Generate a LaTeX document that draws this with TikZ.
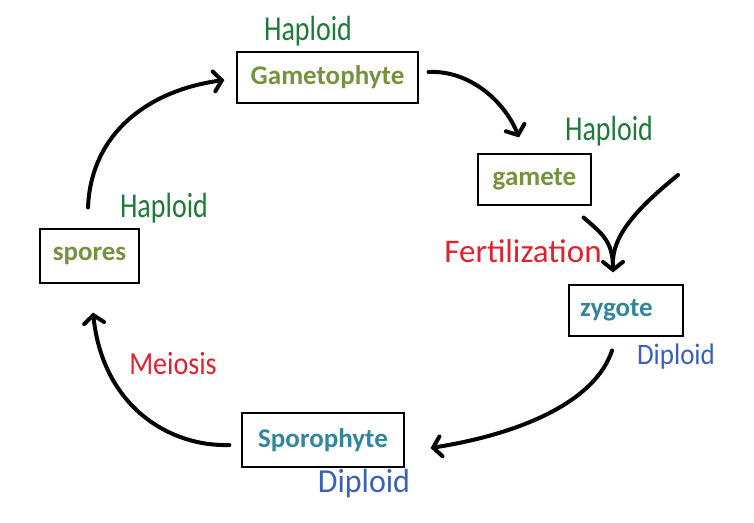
\documentclass[tikz,border=0pt]{standalone}
\usepackage{fontspec}
\setmainfont{Carlito}
\usepackage{graphicx}
\usetikzlibrary{arrows.meta,calc}
\definecolor{boxolive}{HTML}{76923C}
\definecolor{boxteal}{HTML}{31859C}
\definecolor{hapgreen}{HTML}{1F7A3A}
\definecolor{dipblue}{HTML}{3A60B8}
\definecolor{fertred}{HTML}{E2212F}
\begin{document}
\begin{tikzpicture}[x=1pt,y=1pt,
  box/.style={draw=black,line width=1.1pt,minimum height=51pt,inner ysep=0pt,
    font=\fontsize{27}{30}\selectfont\bfseries},
  arr/.style={line width=4pt,line cap=round,line join=round,
    -{Straight Barb[length=8pt,width=20pt,line cap=round]}},
  plain/.style={line width=4pt,line cap=round},
  hand/.style={inner sep=0pt,font=\fontsize{28}{30}\selectfont}]
\useasboundingbox (0,0) rectangle (754,522);
% boxes
\node[box,text=boxolive,minimum width=181pt] (gameto) at (327.5,444.5) {Gametophyte};
\node[box,text=boxolive,minimum width=113pt] (gamete) at (534.5,342.5) {gamete};
\node[box,text=boxteal,text width=92pt,inner xsep=11pt,align=left] (zygote) at (626,211.5) {zygote};
\node[box,text=boxolive,minimum width=99pt,minimum height=54pt] (spores) at (89.5,266) {spores};
\node[box,text=boxteal,minimum width=162pt,minimum height=54pt] (sporo) at (323,82) {Sporophyte};
% labels
\node[hand,text=hapgreen] (h1) at (308,491) {\scalebox{1}[1.25]{Haploid}};
\node[hand,text=hapgreen] (h2) at (609,391) {\scalebox{1}[1.25]{Haploid}};
\node[hand,text=hapgreen] (h3) at (164,314) {\scalebox{1}[1.25]{Haploid}};
\node[hand,text=fertred] (fert) at (523,271) {\scalebox{1}[1]{\fontsize{33}{36}\selectfont Fertilization}};
\node[hand,text=fertred] (mei) at (173,158) {\scalebox{1}[1.15]{Meiosis}};
\node[hand,text=dipblue] (d1) at (676,165) {\scalebox{1}[1.1]{\fontsize{27}{30}\selectfont Diploid}};
\node[hand,text=dipblue] (d2) at (364,38) {\scalebox{1}[1.05]{\fontsize{32}{34}\selectfont Diploid}};
% other gamete (free end)
\coordinate (other) at (678,347);
% arrows
\draw[arr] ($(spores.north)+(-1.5,21)$) .. controls (91,390) and (150,432) .. ($(gameto.west)+(-12,-2.5)$);
\draw[arr] ($(gameto.east)+(10,5.5)$) .. controls (470,452) and (505,420) .. ($(gamete.north)+(-15.5,16)$);
\draw[plain] (other) .. controls (645,320) and (615,292) .. ($(zygote.north)+(-13,25)$);
\draw[arr] ($(gamete.south east)+(-8,-12)$) .. controls (600,290) and (613,282) .. ($(zygote.north)+(-13,12)$);
\draw[arr] ($(zygote.south)+(-14,-14)$) .. controls (595,120) and (520,88) .. ($(sporo.east)+(26,-8)$);
\draw[arr] ($(sporo.west)+(-12,-5)$) .. controls (170,75) and (103,115) .. ($(spores.south)+(3.5,-29)$);
\end{tikzpicture}
\end{document}
